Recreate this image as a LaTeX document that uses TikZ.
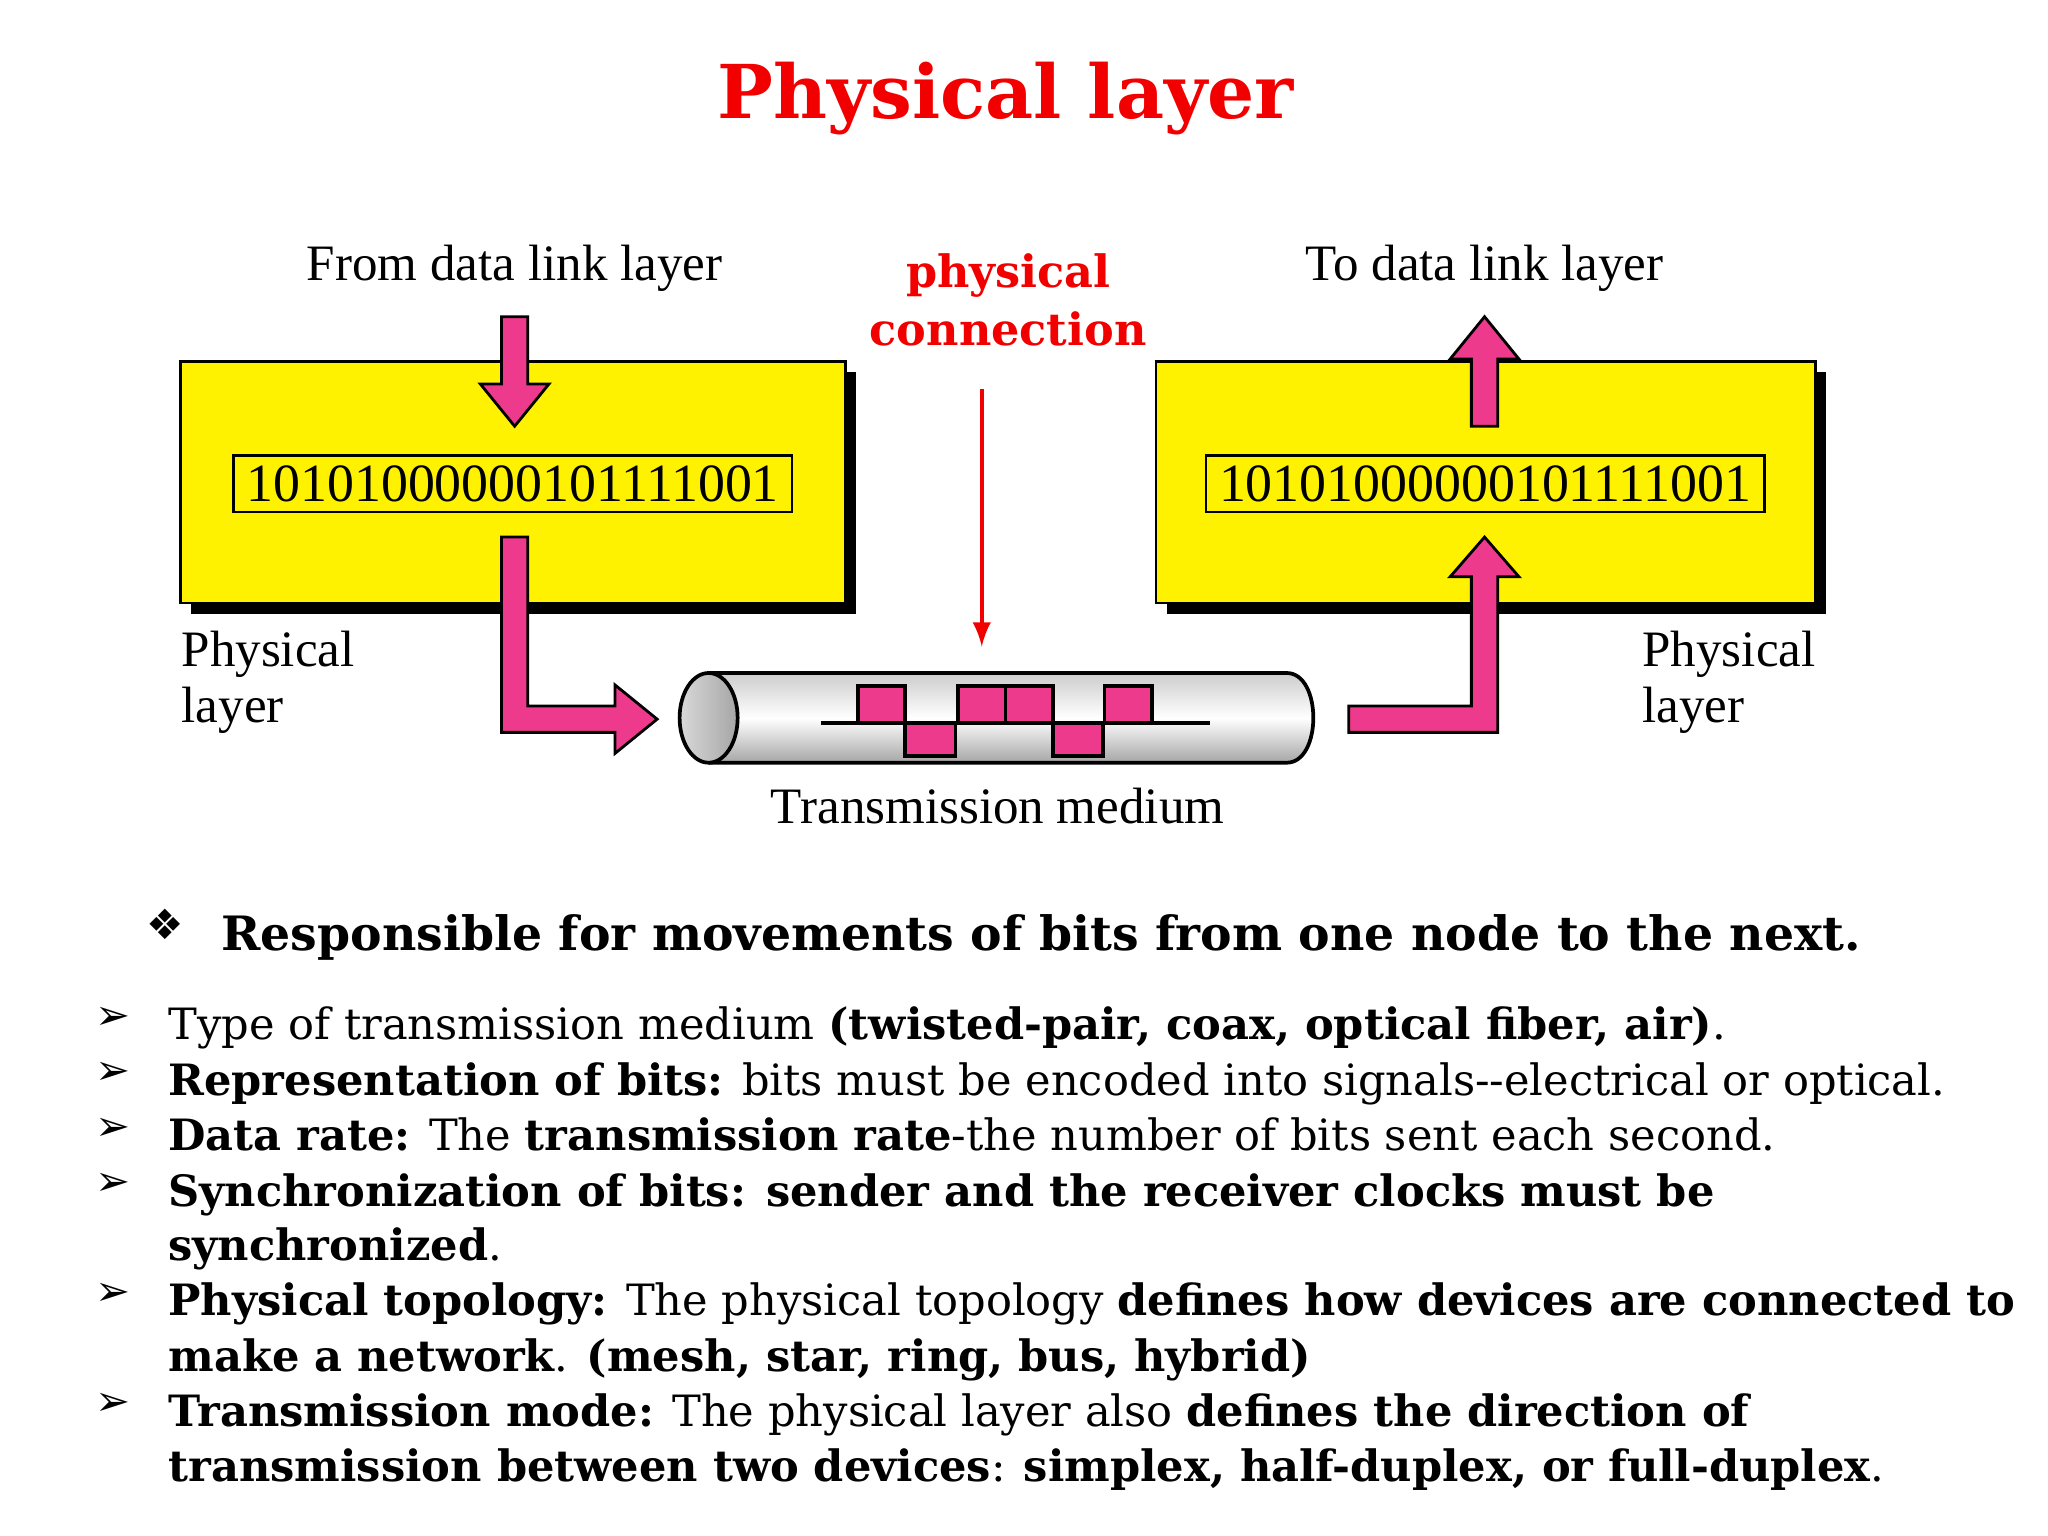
\documentclass[tikz,border=0pt]{standalone}
\usepackage{fontspec}
\setmainfont{DejaVu Serif}
\newfontfamily\tnr{Liberation Serif}
\newfontfamily\sym{DejaVu Sans}
\definecolor{pk}{HTML}{EE3A8C}
\definecolor{ttl}{HTML}{F20000}
\begin{document}
\begin{tikzpicture}[x=0.01cm,y=-0.01cm,
 pa/.style={fill=pk,draw=black,line width=0.6pt},
 ybox/.style={fill=yellow,draw=black,line width=0.6pt},
 lbl/.style={font=\tnr\fontsize{11}{13}\selectfont,align=left},
 li/.style={anchor=base west,inner sep=0,font=\fontsize{9.3}{10}\selectfont},
 bu/.style={anchor=base west,inner sep=0,font=\sym\fontsize{9}{10}\selectfont}]
\useasboundingbox (0,0) rectangle (1552,1164);
\node[font=\bfseries\fontsize{16}{18}\selectfont,text=ttl] (title) at (762,75) {Physical layer};
% boxes
\fill (145,282) rectangle (649,465);
\draw[ybox] (137,274) rectangle (641,457);
\fill (884,282) rectangle (1384,465);
\draw[ybox] (876,274) rectangle (1376,457);
\node[draw,line width=0.6pt,minimum width=4.23cm,minimum height=0.43cm,inner sep=0,font=\tnr\fontsize{11.6}{14}\selectfont] (b1) at (388.5,366.5) {10101000000101111001};
\node[draw,line width=0.6pt,minimum width=4.23cm,minimum height=0.43cm,inner sep=0,font=\tnr\fontsize{11.6}{14}\selectfont] (b2) at (1125.5,366.5) {10101000000101111001};
% arrows
\draw[pa] (380,240)--(400,240)--(400,291)--(416,291)--(390,323)--(364,291)--(380,291)--cycle;
\draw[pa] (380,407)--(400,407)--(400,535)--(466,535)--(466,519)--(498,545)--(466,571)--(466,555)--(380,555)--cycle;
\draw[pa] (1022,535)--(1115,535)--(1115,437)--(1099,437)--(1125,407)--(1151,437)--(1135,437)--(1135,555)--(1022,555)--cycle;
\draw[pa] (1115,323)--(1115,272)--(1099,272)--(1125,240)--(1151,272)--(1135,272)--(1135,323)--cycle;
% cylinder
\shade[top color=gray!40,bottom color=gray!70,middle color=white] (537,510) -- (975,510) .. controls (1002,510) and (1002,578) .. (975,578) -- (537,578) -- cycle;
\draw[line width=0.8pt] (537,510) -- (975,510) .. controls (1002,510) and (1002,578) .. (975,578) -- (537,578);
\shade[left color=gray!30,right color=gray!70] (537,544) ellipse[x radius=22,y radius=34];
\draw[line width=0.8pt] (537,544) ellipse[x radius=22,y radius=34];
\draw[line width=0.8pt] (622,548)--(917,548);
\foreach \a/\b in {650/686,726/762,762/798,837/873}{\draw[fill=pk,line width=0.8pt] (\a,520) rectangle (\b,548);}
\foreach \a/\b in {686/724,798/836}{\draw[fill=pk,line width=0.8pt] (\a,548) rectangle (\b,573);}
\coordinate (c1) at (744,295); \coordinate (c2) at (744,490);
\draw[ttl,line width=0.8pt,-{latex}] (c1)--(c2);
% labels
\node[lbl] (l1) at (390,203) {From data link layer};
\node[lbl] (l2) at (1125,203) {To data link layer};
\node[font=\bfseries\fontsize{9.6}{12.5}\selectfont,text=ttl,align=center] (pc) at (764,227) {physical\\connection};
\node[lbl,anchor=west,inner sep=0,font=\tnr\fontsize{11}{12.2}\selectfont] (p1) at (137,517) {Physical\\layer};
\node[lbl,anchor=west,inner sep=0,font=\tnr\fontsize{11}{12.2}\selectfont] (p2) at (1244,517) {Physical\\layer};
\node[lbl] (tm) at (756,611) {Transmission medium};
% text
\node[bu] (s0) at (110,712) {❖};
\node[li,font=\bfseries\fontsize{10.2}{11}\selectfont] (h) at (167,720) {Responsible for movements of bits from one node to the next.};
\foreach \y in {788,830,872,914,997,1081}{\node[bu] at (72,\y-8) {➢};}
\node[li] (t1) at (127,788) {Type of transmission medium \textbf{(twisted-pair, coax, optical fiber, air)}.};
\node[li] (t2) at (127,830) {\textbf{Representation of bits:} bits must be encoded into signals{-}{-}electrical or optical.};
\node[li] (t3) at (127,872) {\textbf{Data rate:} The \textbf{transmission rate}-the number of bits sent each second.};
\node[li] (t4) at (127,914) {\textbf{Synchronization of bits: sender and the receiver clocks must be}};
\node[li] (t4b) at (127,955) {\textbf{synchronized}.};
\node[li] (t5) at (127,997) {\textbf{Physical topology:} The physical topology \textbf{defines how devices are connected to}};
\node[li] (t5b) at (127,1039) {\textbf{make a network}. \textbf{(mesh, star, ring, bus, hybrid)}};
\node[li] (t6) at (127,1081) {\textbf{Transmission mode:} The physical layer also \textbf{defines the direction of}};
\node[li] (t6b) at (127,1123) {\textbf{transmission between two devices}: \textbf{simplex, half-duplex, or full-duplex}.};
\end{tikzpicture}
\end{document}
